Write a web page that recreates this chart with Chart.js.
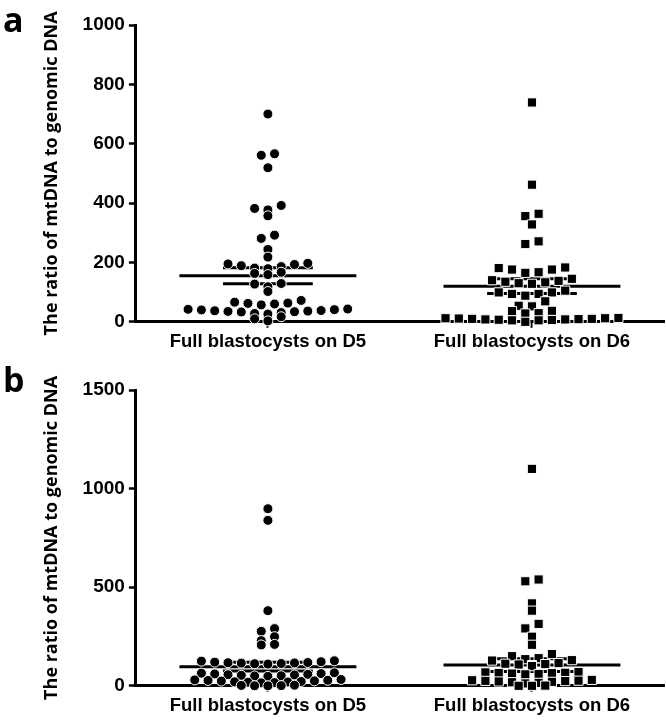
<!DOCTYPE html>
<html>
<head>
<meta charset="utf-8">
<script src="https://cdn.jsdelivr.net/npm/chart.js@4.4.1/dist/chart.umd.min.js"></script>
<style>
  body { margin: 0; background: #fff; }
  .wrap { position: relative; width: 666px; height: 726px; }
  canvas { position: absolute; left: 0; }
  .tag { position: absolute; font: bold 34px 'Open Sans', sans-serif; color: #000; line-height: 1; }
</style>
</head>
<body>
<div class="wrap">
  <canvas id="chart-a" width="666" height="362" style="top:0"></canvas>
  <canvas id="chart-b" width="666" height="364" style="top:362px"></canvas>
  <div class="tag" style="left:3px;top:2px">a</div>
  <div class="tag" style="left:3px;top:362px">b</div>
</div>
<script>
const categorias = ["Full blastocysts on D5", "Full blastocysts on D6"];
const tituloY = "The ratio of mtDNA to genomic DNA";

// ================= PAINEL A =================
const ticksA = [0, 200, 400, 600, 800, 1000];
const d5A = [700, 566, 561, 519, 392, 382, 377, 357, 292, 281, 244, 218,
  197, 195, 193, 189, 186, 181, 179, 167, 163, 159, 129, 127, 118, 102,
  72, 66, 63, 62, 60, 57, 43, 42, 41, 40, 38, 37, 36, 35, 34, 33, 31, 28, 26,
  17, 10, 3];
const d6A = [739, 462, 364, 356, 328, 271, 262, 183, 181, 176, 176, 167, 165,
  145, 140, 138, 135, 133, 130, 128, 105, 99, 99, 94, 94, 88, 69, 54, 52,
  37, 36, 29, 28, 13, 12, 12, 11, 10, 10, 9, 8, 8, 7, 6, 5, 5, 0];
const mediaA = [155, 120];
const epmA = [27, 25];

// ================= PAINEL B =================
const ticksB = [0, 500, 1000, 1500];
const d5B = [898, 839, 381, 290, 276, 249, 229, 210, 207,
  127, 125, 122, 120, 118, 117, 116, 115, 113, 112, 110,
  66, 64, 62, 60, 58, 56, 55, 53, 51, 50, 48,
  32, 30, 28, 27, 25, 24, 22, 20, 19, 18, 16, 15, 3, 2, 1, 0, 0];
const d6B = [1100, 539, 530, 418, 381, 314, 291, 249, 208, 161, 150,
  140, 135, 130, 128, 115, 112, 110, 108, 105, 100,
  70, 68, 66, 65, 64, 62, 60, 58, 30, 28, 26, 25, 24, 22, 20, 18, 15, 12, 1, 0, 0];
const mediaB = [97, 105];
const epmB = [22, 32];

const centros = [1, 3];

function linha(x0, x1, y) {
  return {
    type: "line",
    data: [{ x: x0, y: y }, { x: x1, y: y }],
    borderColor: "#000",
    borderWidth: 3,
    pointRadius: 0,
    clip: false
  };
}

// distribui os pontos em fileiras horizontais (como no GraphPad), usando as escalas do grafico
function espalhar(chart) {
  const xs = chart.scales.x;
  const ys = chart.scales.y;
  const pxUnidade = xs.getPixelForValue(1) - xs.getPixelForValue(0);
  const passo = 13.3;
  const alturaFileira = 5.5;
  chart.data.datasets.forEach(ds => {
    if (!ds.valores) return;
    const ordem = ds.valores.map((v, i) => i).sort((a, b) => ds.valores[b] - ds.valores[a]);
    const fileiras = [];
    let atual = null;
    ordem.forEach(i => {
      const py = ys.getPixelForValue(ds.valores[i]);
      if (!atual || py - atual.inicio > alturaFileira) {
        atual = { inicio: py, itens: [] };
        fileiras.push(atual);
      }
      atual.itens.push(i);
    });
    fileiras.forEach(f => {
      const n = f.itens.length;
      // posicoes do centro para fora; o menor valor fica no meio
      const vagas = f.itens.map((_, k) => k - (n - 1) / 2)
        .sort((a, b) => Math.abs(a) - Math.abs(b) || a - b);
      const itens = f.itens.slice().sort((a, b) => ds.valores[a] - ds.valores[b]);
      itens.forEach((i, k) => {
        ds.data[i] = { x: ds.centro + vagas[k] * passo / pxUnidade, y: ds.valores[i] };
      });
    });
  });
  chart.update("none");
}

function montarPainel(id, series, medias, epms, ticks, padTopo) {
  const estilos = ["circle", "rect"];
  const raios = [5, 6.5];
  const datasets = [];

  series.forEach((valores, j) => {
    datasets.push({
      type: "scatter",
      valores: valores,
      centro: centros[j],
      data: valores.map(v => ({ x: centros[j], y: v })),
      pointStyle: estilos[j],
      pointRadius: raios[j],
      backgroundColor: "#000",
      borderColor: "#fff",
      borderWidth: 1,
      clip: false
    });
  });

  medias.forEach((m, j) => {
    const c = centros[j];
    datasets.push(linha(c - 0.67, c + 0.67, m));
    datasets.push(linha(c - 0.34, c + 0.34, m + epms[j]));
    datasets.push(linha(c - 0.34, c + 0.34, m - epms[j]));
  });

  const chart = new Chart(document.getElementById(id), {
    data: { datasets: datasets },
    options: {
      responsive: false,
      animation: false,
      layout: { autoPadding: false, padding: { left: 38, right: 2, top: padTopo, bottom: 6 } },
      plugins: { legend: { display: false }, tooltip: { enabled: false } },
      scales: {
        x: {
          type: "linear",
          min: 0,
          max: 4,
          afterBuildTicks: s => { s.ticks = centros.map(v => ({ value: v })); },
          ticks: {
            color: "#000",
            padding: 3,
            font: { family: "'Liberation Sans', Arial, sans-serif", size: 18.5, weight: "bold" },
            callback: v => categorias[centros.indexOf(v)]
          },
          grid: { drawOnChartArea: false, tickLength: 6, tickWidth: 2, tickColor: "#000" },
          border: { color: "#000", width: 3 }
        },
        y: {
          min: ticks[0],
          max: ticks[ticks.length - 1],
          afterBuildTicks: s => { s.ticks = ticks.map(v => ({ value: v })); },
          ticks: {
            color: "#000",
            padding: 4,
            font: { family: "'Liberation Sans', Arial, sans-serif", size: 19, weight: "bold" },
            callback: v => String(v)
          },
          title: {
            display: true,
            text: tituloY,
            color: "#000",
            padding: { top: 3, bottom: 16 },
            font: { family: "'Open Sans', sans-serif", size: 18, weight: "bold" }
          },
          grid: { drawOnChartArea: false, tickLength: 7, tickWidth: 2.5, tickColor: "#000" },
          border: { color: "#000", width: 3 }
        }
      }
    }
  });
  espalhar(chart);
  return chart;
}

window.addEventListener("DOMContentLoaded", () => {
  montarPainel("chart-a", [d5A, d6A], mediaA, epmA, ticksA, 25);
  montarPainel("chart-b", [d5B, d6B], mediaB, epmB, ticksB, 28);
});
</script>
</body>
</html>
